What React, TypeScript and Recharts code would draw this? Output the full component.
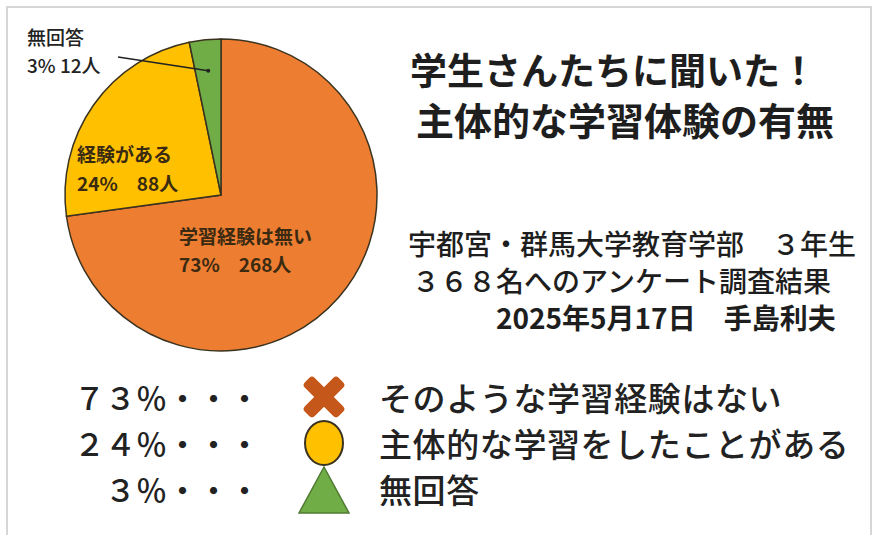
import React from "react";
import { PieChart, Pie, Cell, Legend } from "recharts";

const sliceNames = ["学習経験は無い", "経験がある", "無回答"];
const sliceCounts = [268, 88, 12];
const slicePercents = [73, 24, 3];
const sliceColors = ["#ED7D31", "#FFC000", "#70AD47"];
const legendTexts = ["そのような学習経験はない", "主体的な学習をしたことがある", "無回答"];
const titleLines = ["学生さんたちに聞いた！", "主体的な学習体験の有無"];
const subtitleLines = [
  "宇都宮・群馬大学教育学部　３年生",
  "３６８名へのアンケート調査結果",
  "2025年5月17日　手島利夫",
];

const FONT = '"Noto Sans CJK JP", "Noto Sans", sans-serif';
const RADIAN = Math.PI / 180;

const data = sliceNames.map((name, i) => ({
  name,
  value: sliceCounts[i],
  pct: slicePercents[i],
}));

const toFull = (n: number) =>
  String(n).replace(/[0-9]/g, (d) => String.fromCharCode(d.charCodeAt(0) + 0xfee0));

const renderLabel = (props: any) => {
  const { cx, cy, midAngle, outerRadius, index } = props;
  const d = data[index];
  const font = {
    fontFamily: FONT,
    fontSize: 19,
    fontWeight: 700,
    fill: "#3a2a12",
    dominantBaseline: "central" as const,
  };
  if (index === 0) {
    return (
      <g>
        <text x={cx - 42} y={cy + 40} {...font}>{d.name}</text>
        <text x={cx - 42} y={cy + 68} {...font}>{`${d.pct}%　${d.value}人`}</text>
      </g>
    );
  }
  if (index === 1) {
    return (
      <g>
        <text x={cx - 144} y={cy - 42} {...font}>{d.name}</text>
        <text x={cx - 144} y={cy - 13} {...font}>{`${d.pct}%　${d.value}人`}</text>
      </g>
    );
  }
  const r = outerRadius * 0.8;
  const px = cx + r * Math.cos(-midAngle * RADIAN);
  const py = cy + r * Math.sin(-midAngle * RADIAN);
  return (
    <g>
      <text x={cx - 194} y={cy - 159} {...font} fontWeight={500} fill="#222">{d.name}</text>
      <text x={cx - 194} y={cy - 131} {...font} fontWeight={500} fill="#222">{`${d.pct}% ${d.value}人`}</text>
      <line x1={cx - 103} y1={cy - 138} x2={px} y2={py} stroke="#222" strokeWidth={1.5} />
      <circle cx={px} cy={py} r={2} fill="#222" />
    </g>
  );
};

const LegendIcon = ({ index }: { index: number }) => {
  if (index === 0) {
    return (
      <svg width={56} height={48}>
        <g transform="translate(28,24) rotate(45)">
          <rect x={-24} y={-7} width={48} height={14} rx={4} fill="#C5571A" />
          <rect x={-7} y={-24} width={14} height={48} rx={4} fill="#C5571A" />
        </g>
      </svg>
    );
  }
  if (index === 1) {
    return (
      <svg width={56} height={48}>
        <ellipse cx={28} cy={24} rx={19} ry={22} fill={sliceColors[1]} stroke="#3b3320" strokeWidth={2} />
      </svg>
    );
  }
  return (
    <svg width={56} height={50}>
      <polygon points="28,2 53,48 3,48" fill={sliceColors[2]} stroke="#4f7a32" strokeWidth={1.5} />
    </svg>
  );
};

const renderLegend = () => (
  <div style={{ position: "relative", width: 873, height: 150, fontFamily: FONT }}>
    {legendTexts.map((t, i) => (
      <div key={t} style={{ position: "absolute", left: 0, top: i * 46, height: 48, width: 873 }}>
        <div
          style={{
            position: "absolute",
            left: 40,
            width: 220,
            top: 0,
            lineHeight: "48px",
            textAlign: "right",
            fontSize: 31,
            fontWeight: 500,
            color: "#222",
          }}
        >
          {`${toFull(slicePercents[i])}％・・・`}
        </div>
        <div style={{ position: "absolute", left: 296, top: 0 }}>
          <LegendIcon index={i} />
        </div>
        <div
          style={{
            position: "absolute",
            left: 379,
            top: 0,
            lineHeight: "48px",
            fontSize: 33,
            letterSpacing: 0.6,
            fontWeight: 500,
            color: "#222",
            whiteSpace: "nowrap",
          }}
        >
          {t}
        </div>
      </div>
    ))}
  </div>
);

export default function App() {
  return (
    <div
      style={{
        position: "absolute",
        left: 0,
        top: 0,
        width: 873,
        height: 535,
        background: "#fff",
        overflow: "hidden",
        fontFamily: FONT,
      }}
    >
      <div
        style={{
          position: "absolute",
          left: 6,
          top: 6,
          width: 862,
          height: 560,
          border: "2px solid #d6d6d6",
          borderBottom: "none",
        }}
      />
      <PieChart width={873} height={535} style={{ position: "absolute", left: 0, top: 0 }}>
        <Pie
          data={data}
          dataKey="value"
          nameKey="name"
          cx={216}
          cy={190}
          outerRadius={156}
          startAngle={90}
          endAngle={-270}
          stroke="#3b3320"
          strokeWidth={1.5}
          label={renderLabel}
          labelLine={false}
          isAnimationActive={false}
        >
          {data.map((d, i) => (
            <Cell key={d.name} fill={sliceColors[i]} />
          ))}
        </Pie>
        <Legend
          content={renderLegend}
          wrapperStyle={{ position: "absolute", left: 0, top: 373, width: 873 }}
        />
      </PieChart>
      {titleLines.map((t, i) => (
        <div
          key={t}
          style={{
            position: "absolute",
            left: i === 0 ? 410 : 416,
            top: 48 + i * 50,
            fontSize: i === 0 ? 37 : 38,
            lineHeight: "42px",
            fontWeight: 700,
            color: "#1e1e1e",
            whiteSpace: "nowrap",
          }}
        >
          {t}
        </div>
      ))}
      {subtitleLines.map((t, i) => (
        <div
          key={t}
          style={{
            position: "absolute",
            left: [408, 412, 496][i],
            top: 226 + i * 37,
            fontSize: 28,
            lineHeight: "34px",
            fontWeight: i === 2 ? 700 : 500,
            color: "#1e1e1e",
            whiteSpace: "nowrap",
          }}
        >
          {t}
        </div>
      ))}
    </div>
  );
}
